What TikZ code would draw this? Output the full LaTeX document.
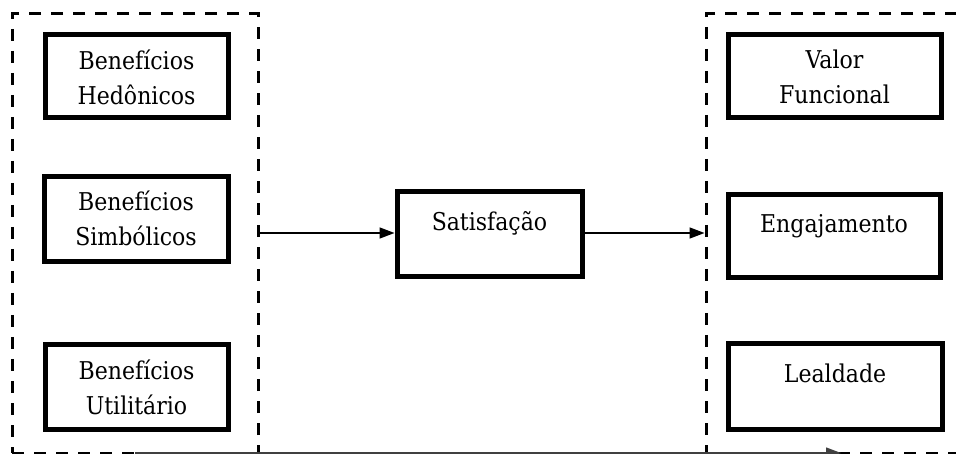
\documentclass[tikz,border=0pt]{standalone}
\usepackage{fontspec}
\setmainfont{DejaVu Serif Condensed}
\usetikzlibrary{arrows.meta}
\tikzset{
  grp/.style={draw, line width=3pt, dash pattern=on 12pt off 10pt, inner sep=0pt},
  blk/.style={draw, line width=5pt, inner sep=0pt},
  txt/.style={inner sep=0pt, anchor=base, align=center, text width=180pt,
    font=\fontsize{24.5}{35}\selectfont},
  conn/.style={line width=1.6pt, -{Triangle[length=15pt,width=11pt]}},
}
\begin{document}
\begin{tikzpicture}[x=1pt,y=-1pt]
\useasboundingbox (0,0) rectangle (956,454);
\fill[white] (0,0) rectangle (956,454);
\clip (0,0) rectangle (956,454);
% group boxes
\node[grp, minimum width=246pt, minimum height=439pt] (L) at (135,233.5) {};
\node[grp, minimum width=269pt, minimum height=439pt] (R) at (840.5,233.5) {};
% left blocks
\node[blk, minimum width=183pt, minimum height=83pt] (H) at (136.5,76.5) {};
\node[blk, minimum width=184pt, minimum height=85pt] (Sb) at (136,219.5) {};
\node[blk, minimum width=183pt, minimum height=84pt] (U) at (136.5,387) {};
% center
\node[blk, minimum width=185pt, minimum height=85pt] (S) at (489.5,234.5) {};
% right blocks
\node[blk, minimum width=213pt, minimum height=83pt] (VF) at (834.5,76.5) {};
\node[blk, minimum width=212pt, minimum height=83pt] (E) at (834,236.5) {};
\node[blk, minimum width=214pt, minimum height=85pt] (Le) at (835,386.5) {};
% texts
\node[txt] (tH) at ([yshift=-37pt]H.north) {Benefícios\\Hedônicos};
\node[txt] (tSb) at ([yshift=-36pt]Sb.north) {Benefícios\\Simbólicos};
\node[txt] (tU) at ([yshift=-37pt]U.north) {Benefícios\\Utilitário};
\node[txt] (tS) at ([yshift=-41pt]S.north) {Satisfação};
\node[txt] (tVF) at ([yshift=-36pt]VF.north) {Valor\\Funcional};
\node[txt] (tE) at ([yshift=-40pt]E.north) {Engajamento};
\node[txt] (tLe) at ([yshift=-41pt]Le.north) {Lealdade};
% connectors
\coordinate (a1) at (L.east |- 0,233);
\coordinate (a2) at (S.west |- 0,233);
\coordinate (b1) at (S.east |- 0,233);
\coordinate (b2) at (R.west |- 0,233);
\draw[conn] (a1) -- (a2);
\draw[conn] (b1) -- (b2);
\coordinate (c1) at (135,453);
\coordinate (c2) at (841,453);
\draw[conn, black!75, line width=1.3pt] (c1) -- (c2);
\end{tikzpicture}
\end{document}
